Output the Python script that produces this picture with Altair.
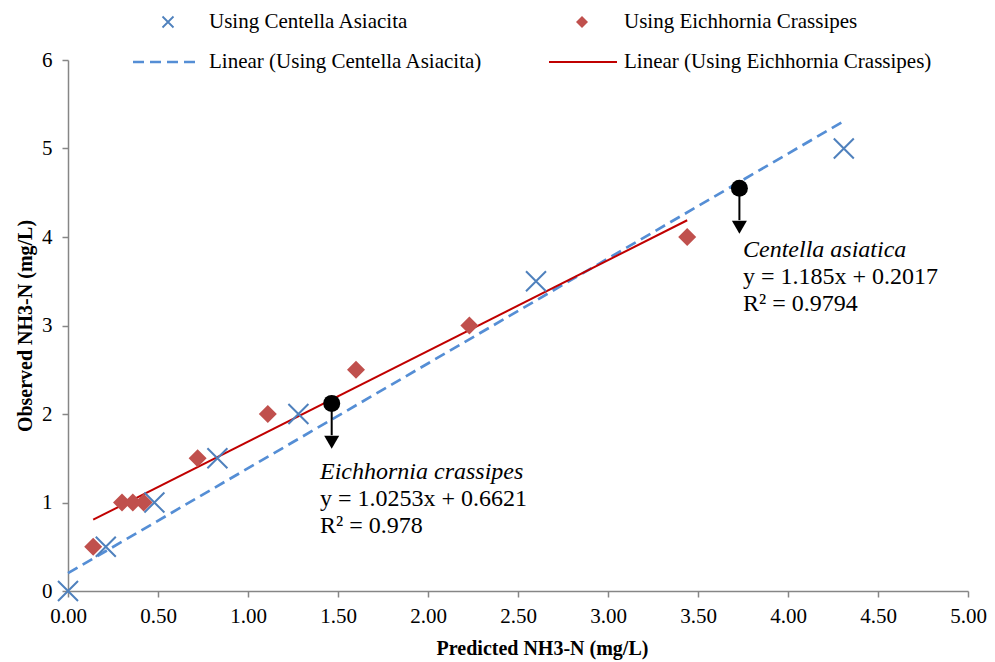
import altair as alt
import pandas as pd

# ---- data ----
centella_x = [0.00, 0.21, 0.48, 0.83, 1.28, 2.60, 4.31]
centella_y = [0.0, 0.5, 1.0, 1.5, 2.0, 3.5, 5.0]
eich_x = [0.14, 0.30, 0.36, 0.42, 0.72, 1.11, 1.60, 2.23, 3.44]
eich_y = [0.5, 1.0, 1.0, 1.0, 1.5, 2.0, 2.5, 3.0, 4.0]

# trendline equations shown on the chart
centella_slope, centella_intercept = 1.185, 0.2017
eich_slope, eich_intercept = 1.0253, 0.6621

ann_names = ["Eichhornia crassipes", "Centella asiatica"]
ann_eq = ["y = 1.0253x + 0.6621", "y = 1.185x + 0.2017"]
ann_r2 = ["R² = 0.978", "R² = 0.9794"]
ann_dot_x = [1.465, 3.73]
ann_dot_y = [2.12, 4.55]
ann_line_end_y = [1.76, 4.19]
ann_head_y = [1.68, 4.11]
ann_text_x = [1.40, 3.75]
ann_text_y = [1.266, 3.774]

legend_labels = [
    "Using Centella Asiacita",
    "Using Eichhornia Crassipes",
    "Linear (Using Centella Asiacita)",
    "Linear (Using Eichhornia Crassipes)",
]

BLUE = "#4F81BD"
BLUE_LINE = "#558ED5"
RED = "#C0504D"
RED_LINE = "#C00000"
FONT = "Liberation Serif"
CROSS = "M-1,-1L1,1M-1,1L1,-1"

centella = pd.DataFrame({"x": centella_x, "y": centella_y})
eich = pd.DataFrame({"x": eich_x, "y": eich_y})

c_lo, c_hi = min(centella_x), max(centella_x)
e_lo, e_hi = min(eich_x), max(eich_x)
centella_fit = pd.DataFrame({
    "x": [c_lo, c_hi],
    "y": [centella_slope * c_lo + centella_intercept, centella_slope * c_hi + centella_intercept],
})
eich_fit = pd.DataFrame({
    "x": [e_lo, e_hi],
    "y": [eich_slope * e_lo + eich_intercept, eich_slope * e_hi + eich_intercept],
})

ann = pd.DataFrame({
    "name": ann_names, "eq": ann_eq, "r2": ann_r2,
    "dx": ann_dot_x, "dy": ann_dot_y, "ly": ann_line_end_y, "hy": ann_head_y,
    "tx": ann_text_x, "ty": ann_text_y,
})

xs = alt.Scale(domain=[0, 5], nice=False, zero=False)
ys = alt.Scale(domain=[0, 6], nice=False)

AXIS_GRAY = "#868686"
x_axis = alt.Axis(
    values=[0, 0.5, 1, 1.5, 2, 2.5, 3, 3.5, 4, 4.5, 5], format=".2f", grid=False,
    domainColor=AXIS_GRAY, tickColor=AXIS_GRAY, domainWidth=1.5, tickWidth=1.5, tickSize=6,
    labelFont=FONT, labelFontSize=21, labelColor="black", labelPadding=8, labelFlush=False,
    titleFont=FONT, titleFontSize=20, titleFontWeight="bold", titleColor="black",
    titleX=474, titleY=63, titleBaseline="alphabetic",
)
y_axis = alt.Axis(
    values=[0, 1, 2, 3, 4, 5, 6], format="d", grid=False,
    domainColor=AXIS_GRAY, tickColor=AXIS_GRAY, domainWidth=1.5, tickWidth=1.5, tickSize=6,
    labelFont=FONT, labelFontSize=21, labelColor="black", labelPadding=10, labelFlush=False,
    titleFont=FONT, titleFontSize=20, titleFontWeight="bold", titleColor="black",
    titleX=-33,
)
XT = "Predicted NH3-N (mg/L)"
YT = "Observed NH3-N (mg/L)"


def X(f="x"):
    return alt.X(f"{f}:Q", scale=xs, axis=x_axis, title=XT)


def Y(f="y"):
    return alt.Y(f"{f}:Q", scale=ys, axis=y_axis, title=YT)


c_line = alt.Chart(centella_fit).mark_line(
    color=BLUE_LINE, strokeWidth=2.7, strokeDash=[11, 6]
).encode(x=X(), y=Y())
e_line = alt.Chart(eich_fit).mark_line(color=RED_LINE, strokeWidth=2).encode(x=X(), y=Y())

c_pts = alt.Chart(centella).mark_point(
    shape=CROSS, filled=False, color=BLUE, strokeWidth=2, size=400, opacity=1
).encode(x=X(), y=Y())
e_pts = alt.Chart(eich).mark_point(
    shape="diamond", filled=True, color=RED, size=324, opacity=1
).encode(x=X(), y=Y())

dots = alt.Chart(ann).mark_point(
    shape="circle", filled=True, color="black", size=289, opacity=1
).encode(x=X("dx"), y=Y("dy"))
arrows = alt.Chart(ann).mark_rule(color="black", strokeWidth=2).encode(
    x=X("dx"), y=Y("dy"), y2=alt.Y2("ly:Q")
)
heads = alt.Chart(ann).mark_point(
    shape="triangle-down", filled=True, color="black", size=225, opacity=1
).encode(x=X("dx"), y=Y("hy"))

t_name = alt.Chart(ann).mark_text(
    align="left", baseline="alphabetic", font=FONT, fontSize=24, fontStyle="italic", color="black"
).encode(x=X("tx"), y=Y("ty"), text="name:N")
t_eq = alt.Chart(ann).mark_text(
    align="left", baseline="alphabetic", font=FONT, fontSize=24, color="black", dy=27
).encode(x=X("tx"), y=Y("ty"), text="eq:N")
t_r2 = alt.Chart(ann).mark_text(
    align="left", baseline="alphabetic", font=FONT, fontSize=24, color="black", dy=54
).encode(x=X("tx"), y=Y("ty"), text="r2:N")

# ---- legend (drawn manually, two columns above the plot) ----
one = pd.DataFrame({"k": [0]})
LEG_TXT = dict(align="left", baseline="middle", font=FONT, fontSize=21, color="black")
leg = [
    alt.Chart(one).mark_point(shape=CROSS, filled=False, color=BLUE, strokeWidth=1.8, size=121, opacity=1)
    .encode(x=alt.value(100), y=alt.value(-38)),
    alt.Chart(one).mark_text(**LEG_TXT).encode(x=alt.value(141), y=alt.value(-38), text=alt.value(legend_labels[0])),
    alt.Chart(one).mark_point(shape="diamond", filled=True, color=RED, size=144, opacity=1)
    .encode(x=alt.value(514), y=alt.value(-38)),
    alt.Chart(one).mark_text(**LEG_TXT).encode(x=alt.value(556), y=alt.value(-38), text=alt.value(legend_labels[1])),
    alt.Chart(one).mark_rule(color=BLUE_LINE, strokeWidth=2.7, strokeDash=[11, 6])
    .encode(x=alt.value(65), x2=alt.value(132), y=alt.value(2)),
    alt.Chart(one).mark_text(**LEG_TXT).encode(x=alt.value(141), y=alt.value(2), text=alt.value(legend_labels[2])),
    alt.Chart(one).mark_rule(color=RED_LINE, strokeWidth=2)
    .encode(x=alt.value(481), x2=alt.value(549), y=alt.value(2)),
    alt.Chart(one).mark_text(**LEG_TXT).encode(x=alt.value(556), y=alt.value(2), text=alt.value(legend_labels[3])),
]

chart = alt.layer(
    c_line, e_line, c_pts, e_pts, arrows, heads, dots, t_name, t_eq, t_r2, *leg
).properties(
    width=900, height=531,
    autosize=alt.AutoSizeParams(type="none"),
    padding={"left": 60, "top": 52, "right": 19, "bottom": 70},
).configure_view(stroke=None)

chart.save("out.html", embed_options={"renderer": "svg", "actions": False})
